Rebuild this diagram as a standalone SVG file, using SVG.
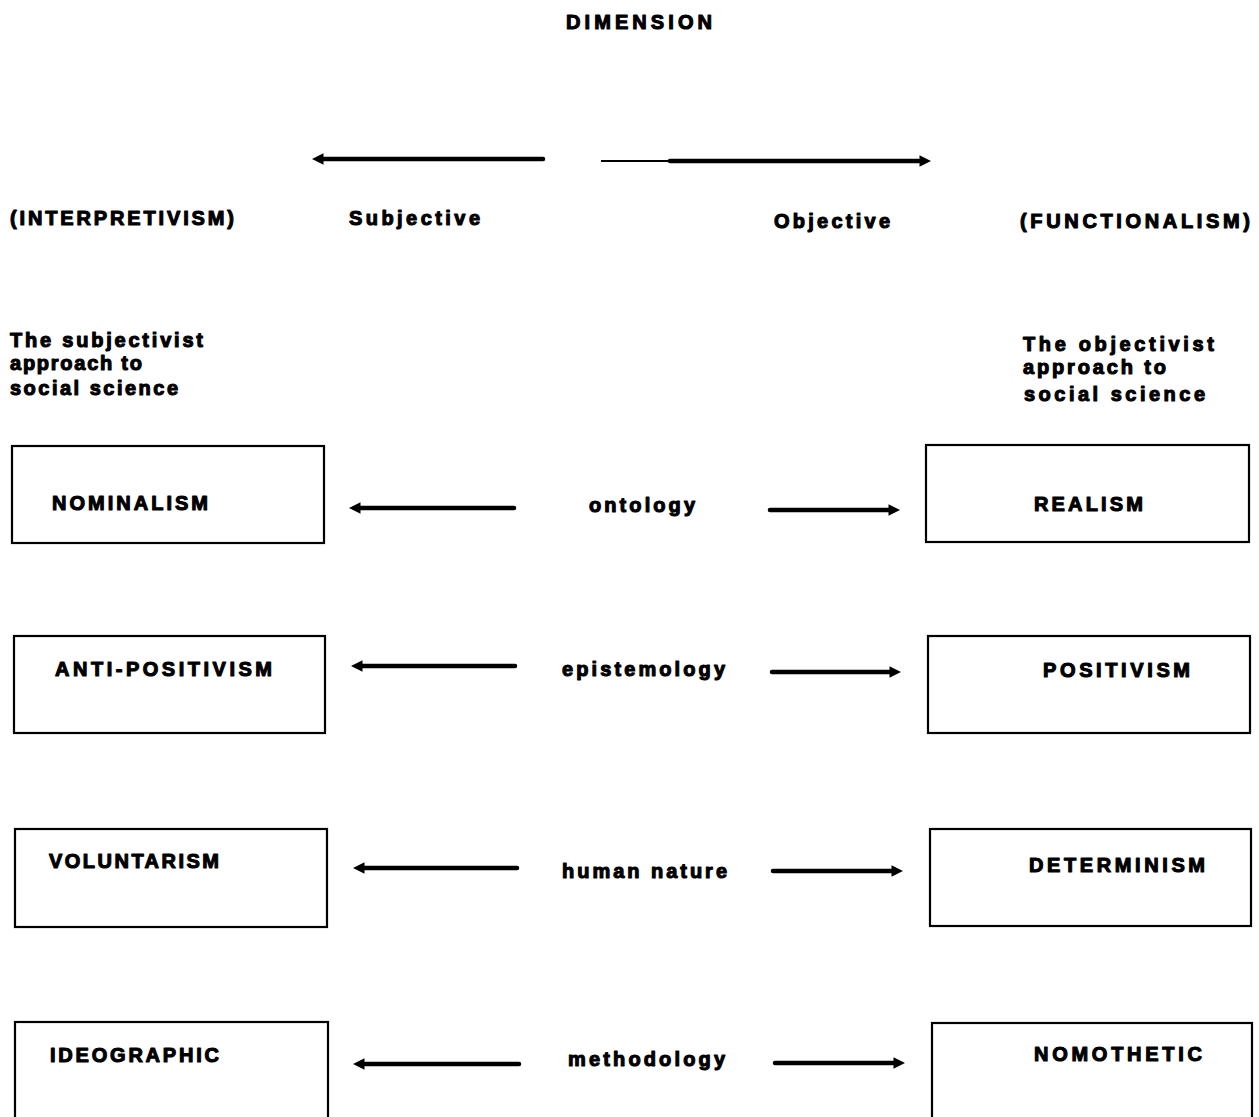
<svg xmlns="http://www.w3.org/2000/svg" width="1259" height="1117" viewBox="0 0 1259 1117">
  <style>
    text { font-family: "Liberation Sans", Arial, sans-serif; font-weight: bold; font-size: 20px; fill: #000; stroke: #000; stroke-width: 1.1px; stroke-linejoin: round; }
    .box { fill: #fff; stroke: #000; stroke-width: 2.2; }
    .arrow { stroke: #000; stroke-width: 4.5; fill: none; stroke-linecap: round; }
  </style>
  <defs>
    <marker id="head" viewBox="0 0 10 10" refX="3" refY="5" markerWidth="2.6" markerHeight="2.6" orient="auto" markerUnits="strokeWidth">
      <path d="M0,0 L10,5 L0,10 Z" fill="#000"/>
    </marker>
  </defs>
  <rect width="1259" height="1117" fill="#fff"/>

  <!-- headings -->
  <g id="headings">
    <text x="566" y="29" textLength="146" lengthAdjust="spacing">DIMENSION</text>
    <text x="10" y="225" textLength="224" lengthAdjust="spacing">(INTERPRETIVISM)</text>
    <text x="349" y="225" textLength="131" lengthAdjust="spacing">Subjective</text>
    <text x="774" y="228" textLength="116" lengthAdjust="spacing">Objective</text>
    <text x="1020" y="228" textLength="230" lengthAdjust="spacing">(FUNCTIONALISM)</text>
  </g>

  <g id="subjectivist-note">
    <text x="10" y="347" textLength="193" lengthAdjust="spacing">The subjectivist</text>
    <text x="10" y="370" textLength="132" lengthAdjust="spacing">approach to</text>
    <text x="10" y="395" textLength="168" lengthAdjust="spacing">social science</text>
  </g>
  <g id="objectivist-note">
    <text x="1023" y="351" textLength="191" lengthAdjust="spacing">The objectivist</text>
    <text x="1023" y="374" textLength="143" lengthAdjust="spacing">approach to</text>
    <text x="1024" y="401" textLength="181" lengthAdjust="spacing">social science</text>
  </g>

  <!-- row 1 -->
  <g id="nominalism">
    <rect class="box" x="12" y="446" width="312" height="97"/>
    <text x="52" y="510" textLength="156" lengthAdjust="spacing">NOMINALISM</text>
  </g>
  <g id="ontology">
    <text x="589" y="512" textLength="106" lengthAdjust="spacing">ontology</text>
  </g>
  <g id="realism">
    <rect class="box" x="926" y="445" width="323" height="97"/>
    <text x="1034" y="511" textLength="109" lengthAdjust="spacing">REALISM</text>
  </g>

  <!-- row 2 -->
  <g id="anti-positivism">
    <rect class="box" x="14" y="636" width="311" height="97"/>
    <text x="55" y="676" textLength="217" lengthAdjust="spacing">ANTI-POSITIVISM</text>
  </g>
  <g id="epistemology">
    <text x="562" y="676" textLength="163" lengthAdjust="spacing">epistemology</text>
  </g>
  <g id="positivism">
    <rect class="box" x="928" y="636" width="322" height="97"/>
    <text x="1043" y="677" textLength="147" lengthAdjust="spacing">POSITIVISM</text>
  </g>

  <!-- row 3 -->
  <g id="voluntarism">
    <rect class="box" x="15" y="829" width="312" height="98"/>
    <text x="49" y="868" textLength="170" lengthAdjust="spacing">VOLUNTARISM</text>
  </g>
  <g id="human-nature">
    <text x="562" y="878" textLength="165" lengthAdjust="spacing">human nature</text>
  </g>
  <g id="determinism">
    <rect class="box" x="930" y="829" width="321" height="97"/>
    <text x="1029" y="872" textLength="176" lengthAdjust="spacing">DETERMINISM</text>
  </g>

  <!-- row 4 -->
  <g id="ideographic">
    <rect class="box" x="15" y="1022" width="313" height="110"/>
    <text x="50" y="1062" textLength="169" lengthAdjust="spacing">IDEOGRAPHIC</text>
  </g>
  <g id="methodology">
    <text x="568" y="1066" textLength="157" lengthAdjust="spacing">methodology</text>
  </g>
  <g id="nomothetic">
    <rect class="box" x="932" y="1023" width="320" height="110"/>
    <text x="1034" y="1061" textLength="168" lengthAdjust="spacing">NOMOTHETIC</text>
  </g>

  <!-- connectors -->
  <g id="connectors">
    <line class="arrow" x1="543" y1="159" x2="320" y2="159" marker-end="url(#head)"/>
    <line x1="601" y1="161" x2="672" y2="161" stroke="#000" stroke-width="2"/>
    <line class="arrow" x1="670" y1="161" x2="923" y2="161" marker-end="url(#head)"/>

    <line class="arrow" x1="514" y1="508" x2="357" y2="508" marker-end="url(#head)"/>
    <line class="arrow" x1="770" y1="510" x2="892" y2="510" marker-end="url(#head)"/>

    <line class="arrow" x1="515" y1="666" x2="359" y2="666" marker-end="url(#head)"/>
    <line class="arrow" x1="772" y1="672" x2="893" y2="672" marker-end="url(#head)"/>

    <line class="arrow" x1="517" y1="868" x2="361" y2="868" marker-end="url(#head)"/>
    <line class="arrow" x1="773" y1="871" x2="895" y2="871" marker-end="url(#head)"/>

    <line class="arrow" x1="519" y1="1064" x2="361" y2="1064" marker-end="url(#head)"/>
    <line class="arrow" x1="775" y1="1063" x2="897" y2="1063" marker-end="url(#head)"/>
  </g>
</svg>
